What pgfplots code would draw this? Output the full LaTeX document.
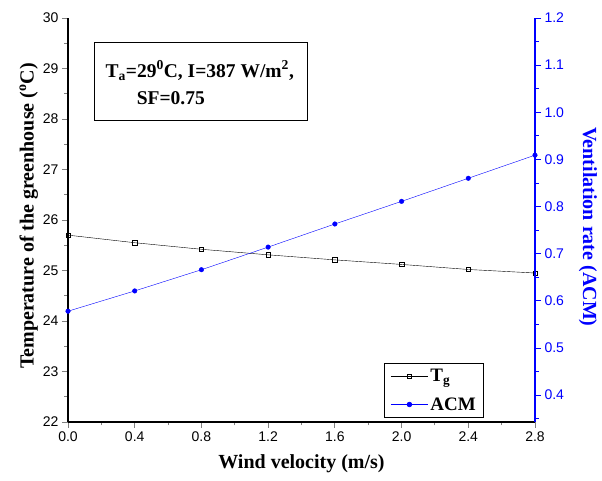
\documentclass[border=0pt]{standalone}
\usepackage{pgfplots}
\pgfplotsset{compat=1.18}
\usepackage{fontspec}
\setmainfont{Liberation Serif}
\setsansfont{Liberation Sans}
\definecolor{myblue}{RGB}{0,0,255}
\begin{document}
\begin{tikzpicture}[x=1pt,y=1pt]
\pgfplotsset{
  every axis/.append style={
    width=467pt, height=404pt, scale only axis,
    xmin=0, xmax=2.8,
    tick align=outside,
    tick label style={font=\sffamily\fontsize{14}{16}\selectfont},
    /pgf/number format/assume math mode=true,
    label style={font=\bfseries\fontsize{20}{22}\selectfont},
    major tick length=6pt, minor tick length=3.5pt,
    every tick/.append style={line width=0.9pt},
    axis line style={line width=1.1pt},
  }
}
\begin{axis}[
  axis y line*=left, axis x line*=bottom,
  ymin=22, ymax=30,
  ytick={22,...,30}, minor ytick={22.5,23.5,...,29.5},
  xtick={0,0.4,...,2.81}, minor xtick={0.2,0.6,...,2.7},
  xticklabel style={/pgf/number format/.cd,fixed,fixed zerofill,precision=1},
  xlabel={Wind velocity (m/s)},
  ylabel={Temperature of the greenhouse ($\mathbf{^{o}}$C)},
  xlabel style={yshift=-6pt},
  ylabel style={yshift=-2pt, xshift=4pt},
  clip=false,
  legend style={at={(0.677,0.01)}, anchor=south west, draw=black, line width=0.8pt,
    font=\bfseries\fontsize{19}{22}\selectfont, row sep=10pt, inner sep=4pt, inner xsep=6pt},
  legend cell align=left,
  legend image code/.code={\draw[mark repeat=2,mark phase=2] plot coordinates {(0cm,0cm) (0.65cm,0cm) (1.3cm,0cm)};},
]
\addplot[black, mark=square, mark size=2.2pt, mark options={solid, fill=white}] coordinates {
(0,25.70) (0.4,25.55) (0.8,25.42) (1.2,25.31) (1.6,25.21) (2.0,25.12) (2.4,25.02) (2.8,24.95)};
\addlegendentry{T$_{\mathbf{g}}$}
\addlegendimage{myblue, mark=*, mark size=2.3pt}
\addlegendentry{ACM}
\draw[line width=0.9pt] (axis cs:0.156,29.52) rectangle (axis cs:1.433,27.98);
\node[anchor=center, align=left, font=\bfseries\fontsize{19.5}{27}\selectfont] at (axis cs:0.79,28.72)
  {T$_{\mathbf{a}}$=29$^{\mathbf{0}}$C, I=387 W/m$^{\mathbf{2}}$,\\ \hspace*{1.6em}SF=0.75};
\path[use as bounding box] ([xshift=-68pt,yshift=-59pt]rel axis cs:0,0) rectangle ([xshift=67pt,yshift=18pt]rel axis cs:1,1);
\end{axis}
\begin{axis}[
  axis y line*=right, axis x line=none,
  ymin=0.343, ymax=1.2,
  ytick={0.4,0.5,...,1.21}, minor ytick={0.35,0.45,...,1.16},
  yticklabel style={text=myblue, /pgf/number format/.cd,fixed,fixed zerofill,precision=1},
  y axis line style={myblue, line width=1.1pt},
  y tick style={myblue},
  ylabel={Ventilation rate (ACM)},
  ylabel style={myblue, rotate=180, yshift=8pt, xshift=7pt},
]
\addplot[myblue, mark=*, mark size=2.3pt] coordinates {
(0,0.578) (0.4,0.621) (0.8,0.666) (1.2,0.714) (1.6,0.763) (2.0,0.811) (2.4,0.860) (2.8,0.909)};
\end{axis}
\end{tikzpicture}
\end{document}
